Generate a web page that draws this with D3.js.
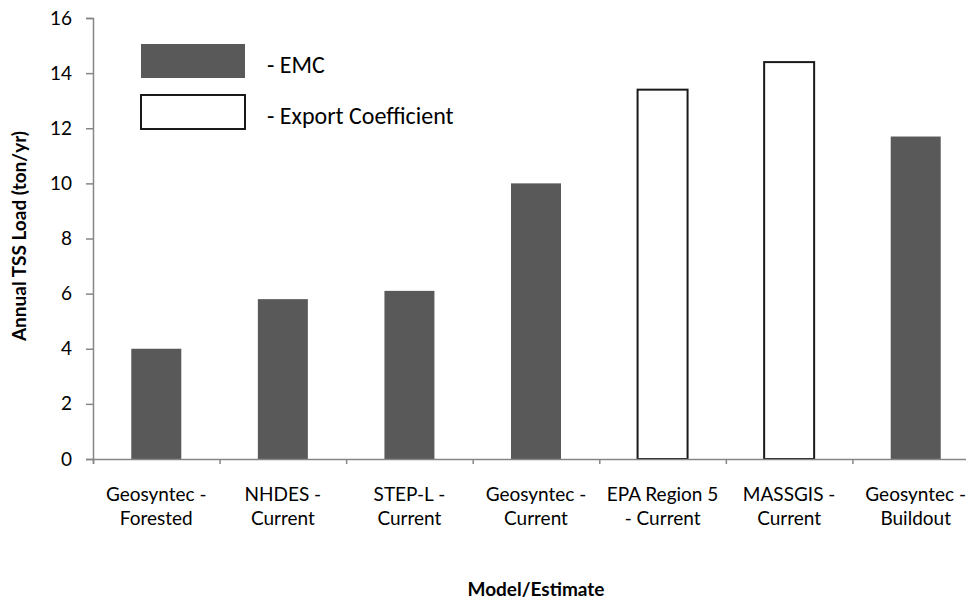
<!DOCTYPE html>
<html><head><meta charset="utf-8">
<script src="https://cdn.jsdelivr.net/npm/d3@7/dist/d3.min.js"></script>
<style>body{margin:0;background:#fff}svg{display:block}</style>
</head><body>
<script>
const categories = [["Geosyntec -","Forested"],["NHDES -","Current"],["STEP-L -","Current"],["Geosyntec -","Current"],["EPA Region 5","- Current"],["MASSGIS -","Current"],["Geosyntec -","Buildout"]];
const values = [4.0, 5.8, 6.1, 10.0, 13.4, 14.4, 11.7];
const methods = ["EMC","EMC","EMC","EMC","Export","Export","EMC"];
const yTicks = [0,2,4,6,8,10,12,14,16];
const legendItems = [{key:"EMC",label:"- EMC"},{key:"Export",label:"- Export Coefficient"}];

(function(){
const W=966,H=601;
const svg=d3.select("body").append("svg").attr("width",W).attr("height",H);
const mL=93,mR=979,mT=18,mB=459;
const axisFont="Lato, 'DejaVu Sans', sans-serif";
const x=d3.scaleBand().domain(d3.range(categories.length)).range([mL,mR]).paddingInner(0.605).paddingOuter(0.3025);
const y=d3.scaleLinear().domain([0,16]).range([mB,mT]);
const fillOf=k=>k==="EMC"?"#595959":"#ffffff";
const strokeOf=k=>k==="EMC"?"none":"#1a1a1a";

svg.append("g").selectAll("rect").data(values).join("rect")
 .attr("x",(d,i)=>x(i)).attr("width",x.bandwidth())
 .attr("y",d=>y(d)).attr("height",d=>y(0)-y(d))
 .attr("fill",(d,i)=>fillOf(methods[i]))
 .attr("stroke",(d,i)=>strokeOf(methods[i])).attr("stroke-width",2);

const ya=svg.append("g").attr("transform",`translate(${mL},0)`)
 .call(d3.axisLeft(y).tickValues(yTicks).tickSize(7).tickPadding(14));
ya.select(".domain").attr("stroke","#868686").attr("stroke-width",1.5);
ya.selectAll(".tick line").attr("stroke","#868686").attr("stroke-width",1.5);
ya.selectAll(".tick text").attr("font-family",axisFont).attr("font-size",19).attr("fill","#000");

const xl=d3.scaleLinear().domain([0,categories.length]).range([mL,mR]);
const xa=svg.append("g").attr("transform",`translate(0,${mB})`)
 .call(d3.axisBottom(xl).tickValues(d3.range(categories.length+1)).tickSize(5).tickFormat(""));
xa.select(".domain").attr("stroke","#868686").attr("stroke-width",1.5);
xa.selectAll(".tick line").attr("stroke","#868686").attr("stroke-width",1.5);

const cl=svg.append("g");
categories.forEach((c,i)=>{
  const t=cl.append("text").attr("text-anchor","middle").attr("font-family",axisFont).attr("font-size",19).attr("fill","#000");
  c.forEach((line,j)=>t.append("tspan").attr("x",x(i)+x.bandwidth()/2).attr("y",501+j*24).text(line));
});

svg.append("text").attr("x",(mL+mR)/2).attr("y",596).attr("text-anchor","middle")
 .attr("font-family",axisFont).attr("font-weight","bold").attr("font-size",19).text("Model/Estimate");
svg.append("text").attr("transform",`translate(26,236) rotate(-90)`).attr("text-anchor","middle")
 .attr("font-family",axisFont).attr("font-weight","bold").attr("font-size",19).text("Annual TSS Load (ton/yr)");

const lg=svg.append("g");
legendItems.forEach((it,i)=>{
  const yy=44+i*51;
  lg.append("rect").attr("x",141).attr("y",yy).attr("width",104).attr("height",34)
   .attr("fill",fillOf(it.key)).attr("stroke",strokeOf(it.key)).attr("stroke-width",2);
  lg.append("text").attr("x",267).attr("y",yy+29).attr("font-family","Carlito, 'Liberation Sans', 'Open Sans', sans-serif")
   .attr("font-size",24).attr("fill","#000").text(it.label);
});
})();
</script>
</body></html>
